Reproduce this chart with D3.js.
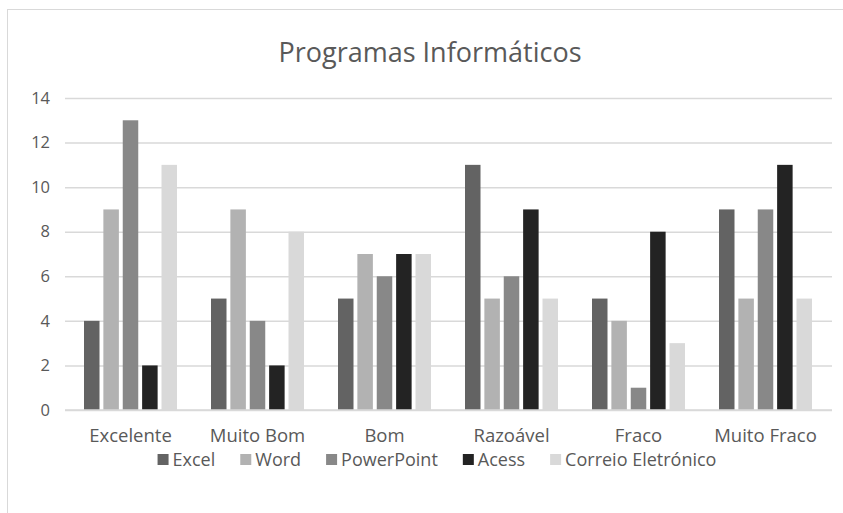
<!DOCTYPE html>
<html lang="pt">
<head>
    <meta charset="UTF-8">
    <title>Programas Informáticos</title>
    <script src="https://d3js.org/d3.v7.min.js"></script>
    <style>
        body { margin: 0; background: #fff; }
        text { font-family: "Open Sans", sans-serif; fill: #595959; }
    </style>
</head>
<body>
    <div id="chart"></div>
    <script>

    // data
    var categories = ["Excelente", "Muito Bom", "Bom", "Razoável", "Fraco", "Muito Fraco"];
    var seriesNames = ["Excel", "Word", "PowerPoint", "Acess", "Correio Eletrónico"];
    var excel      = [4, 5, 5, 11, 5, 9];
    var word       = [9, 9, 7, 5, 4, 5];
    var powerpoint = [13, 4, 6, 6, 1, 9];
    var acess      = [2, 2, 7, 9, 8, 11];
    var correio    = [11, 8, 7, 5, 3, 5];
    var yTicks     = [0, 2, 4, 6, 8, 10, 12, 14];

    var seriesValues = [excel, word, powerpoint, acess, correio];
    var colors = ["#636363", "#b2b2b2", "#888888", "#232323", "#d9d9d9"];

    var W = 843, H = 513;
    var svg = d3.select("#chart").append("svg")
        .attr("width", W)
        .attr("height", H);

    // chart frame (only top + left edges visible)
    svg.append("rect")
        .attr("x", 7.5).attr("y", 9.5)
        .attr("width", W + 10).attr("height", H + 10)
        .attr("fill", "none")
        .attr("stroke", "#d9d9d9");

    // title
    svg.append("text")
        .attr("x", 430).attr("y", 62)
        .attr("text-anchor", "middle")
        .style("font-size", "27px")
        .text("Programas Informáticos");

    // scales
    var x0 = d3.scaleBand().domain(categories).range([67, 829]);
    var x1 = d3.scaleBand().domain(seriesNames).range([17, 110]).paddingInner(0.2);
    var y = d3.scaleLinear().domain([0, 14]).range([410, 98]);

    // gridlines + y labels
    var yAxis = svg.append("g")
        .attr("transform", "translate(65,0)")
        .call(d3.axisLeft(y).tickValues(yTicks).tickSize(-767).tickPadding(15));
    yAxis.select(".domain").remove();
    yAxis.selectAll(".tick line").attr("stroke", "#d9d9d9").attr("stroke-width", 1.5);
    yAxis.selectAll(".tick text").style("font-size", "16.5px").attr("fill", "#595959");

    // bars
    var groups = svg.selectAll(".grp")
        .data(categories)
        .enter().append("g")
        .attr("transform", function(d) { return "translate(" + x0(d) + ",0)"; });

    groups.selectAll("rect")
        .data(function(d, i) {
            return seriesNames.map(function(s, j) { return {s: s, v: seriesValues[j][i], c: colors[j]}; });
        })
        .enter().append("rect")
        .attr("x", function(d) { return x1(d.s); })
        .attr("y", function(d) { return y(d.v); })
        .attr("width", x1.bandwidth())
        .attr("height", function(d) { return y(0) - y(d.v); })
        .attr("fill", function(d) { return d.c; });

    // category axis
    var xAxis = svg.append("g")
        .attr("transform", "translate(0,410)")
        .call(d3.axisBottom(x0).tickSize(0).tickPadding(19));
    xAxis.select(".domain").attr("stroke", "#d9d9d9").attr("stroke-width", 1.5)
        .attr("d", "M65,0H832");
    xAxis.selectAll(".tick text").style("font-size", "18.5px").attr("fill", "#595959");

    // legend
    var legend = svg.append("g");
    var lx = 0, gap = 25;
    seriesNames.forEach(function(s, i) {
        var item = legend.append("g").attr("transform", "translate(" + lx + ",0)");
        item.append("rect").attr("x", 0).attr("y", -12).attr("width", 11).attr("height", 11)
            .attr("fill", colors[i]);
        var t = item.append("text").attr("x", 15).attr("y", 0)
            .style("font-size", "18px").text(s);
        lx += 15 + t.node().getComputedTextLength() + gap;
    });
    legend.attr("transform", "translate(" + (437 - (lx - gap) / 2) + ",466)");

    </script>
</body>
</html>
